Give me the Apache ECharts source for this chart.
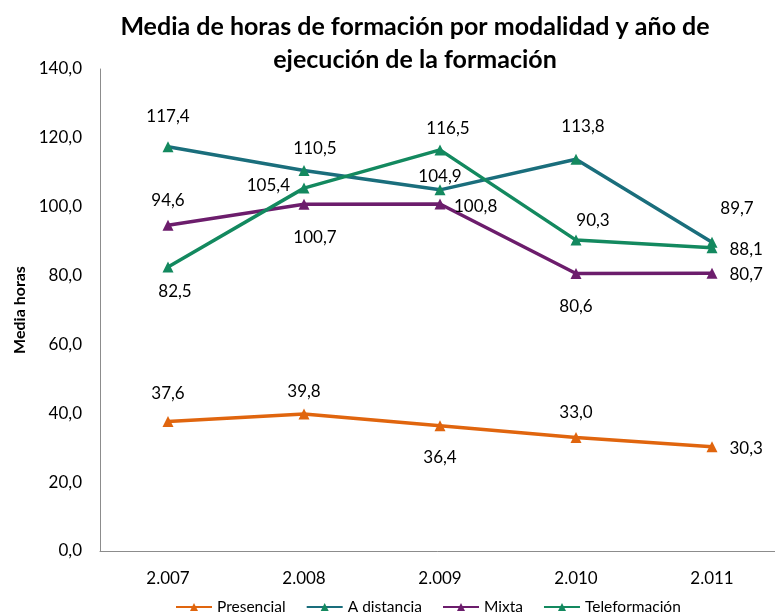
<!DOCTYPE html>
<html>
<head>
<meta charset="utf-8">
<script src="https://cdn.jsdelivr.net/npm/echarts@6/dist/echarts.min.js"></script>
<style>
  html, body { margin: 0; padding: 0; background: #fff; }
  #chart { width: 775px; height: 616px; }
</style>
</head>
<body>
<div id="chart"></div>
<script>
// datos
var years = ['2.007', '2.008', '2.009', '2.010', '2.011'];
var presencial = [37.6, 39.8, 36.4, 33.0, 30.3];
var distancia = [117.4, 110.5, 104.9, 113.8, 89.7];
var mixta = [94.6, 100.7, 100.8, 80.6, 80.7];
var teleformacion = [82.5, 105.4, 116.5, 90.3, 88.1];

// posicion de cada etiqueta (como en el original)
var posPresencial = ['top', 'top', 'bottom', 'top', 'right'];
var posDistancia = ['top', 'top', 'top', 'top', 'top'];
var posMixta = ['top', 'bottom', 'right', 'bottom', 'right'];
var posTele = ['bottom', 'left', 'top', 'top', 'right'];

// ajuste fino de las etiquetas [dx, dy]
var offPresencial = [[0, -9.5], [0, -3], [0, 13], [0, -6], [7, 2]];
var offDistancia = [[0, -11], [11, -3.5], [0, 6], [7, -14], [25, -15]];
var offMixta = [[0, -6], [11, 14], [3.5, 3], [0, 14.5], [7, 1]];
var offTele = [[7, 6], [-3.5, -3], [8, -2], [17, -1], [7, 2]];

var FONT = 'Lato';

function fmt(v) {
  return v.toFixed(1).replace('.', ',');
}

function buildData(values, positions, offsets) {
  return values.map(function (v, i) {
    return {
      value: v,
      label: {
        position: positions[i],
        distance: 5,
        offset: offsets[i]
      }
    };
  });
}

function serie(name, values, positions, offsets, lineColor, markColor) {
  return {
    name: name,
    type: 'line',
    symbol: 'triangle',
    symbolSize: 11,
    data: buildData(values, positions, offsets),
    lineStyle: { color: lineColor, width: 3.5 },
    itemStyle: { color: markColor },
    label: {
      show: true,
      color: '#000',
      fontFamily: FONT,
      fontSize: 17,
      formatter: function (p) { return fmt(p.value); }
    },
    emphasis: { disabled: true },
    animation: false
  };
}

var myChart = echarts.init(document.getElementById('chart'));

var option = {
  backgroundColor: '#fff',
  title: {
    text: 'Media de horas de formación por modalidad y año de\nejecución de la formación',
    left: 410,
    top: 5,
    textAlign: 'center',
    textStyle: {
      fontFamily: FONT,
      fontSize: 25,
      fontWeight: 'bold',
      color: '#000',
      lineHeight: 33
    }
  },
  legend: {
    bottom: -4,
    left: 170,
    itemWidth: 36,
    itemHeight: 10,
    itemGap: 20,
    textStyle: { fontFamily: FONT, fontSize: 15.5, color: '#000' },
    data: ['Presencial', 'A distancia', 'Mixta', 'Teleformación']
  },
  grid: {
    left: 100,
    width: 680,
    top: 69,
    bottom: 65,
    outerBoundsMode: 'none'
  },
  xAxis: {
    type: 'category',
    data: years,
    axisLine: { lineStyle: { color: '#8c8c8c', width: 1 } },
    axisTick: { show: false },
    axisLabel: {
      color: '#000',
      fontFamily: FONT,
      fontSize: 17,
      margin: 19
    }
  },
  yAxis: {
    type: 'value',
    min: 0,
    max: 140,
    interval: 20,
    name: 'Media horas',
    nameLocation: 'middle',
    nameGap: 58,
    nameTextStyle: {
      fontFamily: FONT,
      fontSize: 16,
      fontWeight: 'bold',
      color: '#000'
    },
    axisLine: { show: true, lineStyle: { color: '#8c8c8c', width: 1 } },
    axisTick: { show: false },
    splitLine: { show: false },
    axisLabel: {
      color: '#000',
      fontFamily: FONT,
      fontSize: 17,
      margin: 18,
      formatter: function (v) { return fmt(v); }
    }
  },
  series: [
    serie('Presencial', presencial, posPresencial, offPresencial, '#E0650E', '#E0650E'),
    serie('A distancia', distancia, posDistancia, offDistancia, '#1A6E7C', '#14895F'),
    serie('Mixta', mixta, posMixta, offMixta, '#6C1D6C', '#6C1D6C'),
    serie('Teleformación', teleformacion, posTele, offTele, '#13895F', '#13895F')
  ]
};

myChart.setOption(option);
</script>
</body>
</html>
